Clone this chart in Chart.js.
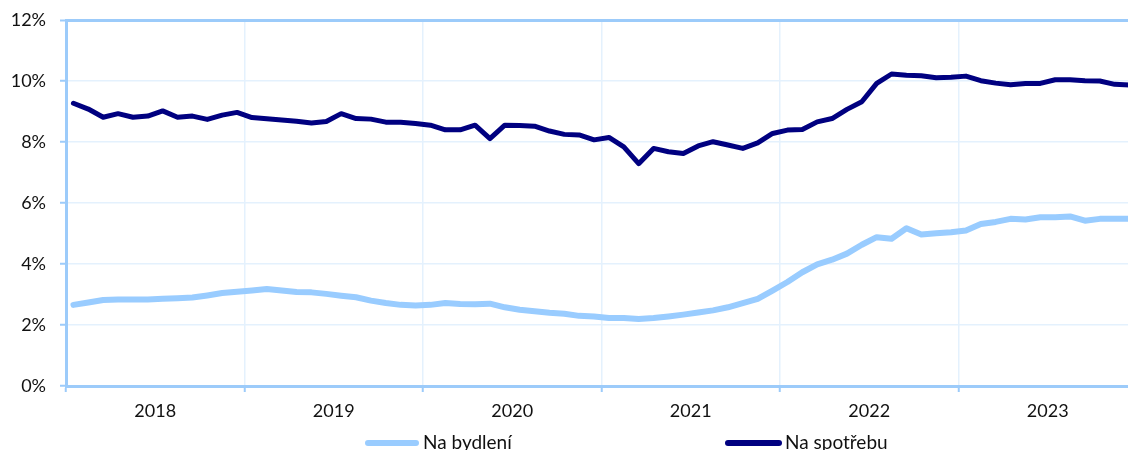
<!DOCTYPE html>
<html>
<head>
<meta charset="utf-8">
<script src="https://cdn.jsdelivr.net/npm/chart.js@4/dist/chart.umd.min.js"></script>
<style>
    html, body { margin: 0; padding: 0; background: #fff; overflow: hidden; }
    #wrap { width: 1137px; height: 450px; position: relative; }
</style>
</head>
<body>
<div id="wrap"><canvas id="chart"></canvas></div>
<script>
// monthly values, Jan 2018 .. Dec 2023 (% p.a.)
const years = ['2018', '2019', '2020', '2021', '2022', '2023'];

const bydleni = [
    2.66, 2.74, 2.82, 2.84, 2.84, 2.84, 2.86, 2.88, 2.90, 2.97, 3.05, 3.09,
    3.13, 3.18, 3.13, 3.08, 3.07, 3.02, 2.96, 2.91, 2.80, 2.72, 2.66, 2.64,
    2.66, 2.72, 2.69, 2.68, 2.70, 2.58, 2.50, 2.45, 2.40, 2.37, 2.30, 2.28,
    2.23, 2.23, 2.20, 2.23, 2.28, 2.34, 2.41, 2.48, 2.58, 2.72, 2.86, 3.13,
    3.41, 3.73, 3.99, 4.14, 4.34, 4.63, 4.88, 4.83, 5.17, 4.97, 5.01, 5.04,
    5.10, 5.31, 5.38, 5.48, 5.46, 5.53, 5.53, 5.56, 5.42, 5.48, 5.48, 5.48
];

const spotreba = [
    9.27, 9.08, 8.81, 8.93, 8.81, 8.85, 9.02, 8.81, 8.85, 8.74, 8.88, 8.97,
    8.80, 8.76, 8.72, 8.68, 8.62, 8.67, 8.93, 8.77, 8.75, 8.65, 8.65, 8.61,
    8.55, 8.40, 8.40, 8.55, 8.11, 8.55, 8.54, 8.52, 8.36, 8.25, 8.23, 8.07,
    8.15, 7.84, 7.29, 7.79, 7.68, 7.62, 7.87, 8.01, 7.90, 7.79, 7.97, 8.28,
    8.39, 8.41, 8.66, 8.77, 9.07, 9.32, 9.92, 10.23, 10.19, 10.17, 10.11, 10.12,
    10.16, 10.01, 9.93, 9.88, 9.92, 9.92, 10.04, 10.04, 10.01, 10.00, 9.89, 9.87
];

const seriesNames = ['Na bydlení', 'Na spotřebu'];
const seriesColors = ['#99ccff', '#000080'];

const months = [];
years.forEach((y) => {
    for (let m = 1; m <= 12; m++) {
        months.push(y + '-' + String(m).padStart(2, '0'));
    }
});

const axisBlue = '#9ccbfa';
const gridBlue = '#e4f1fd';
const fontFamily = 'Lato, "Open Sans", sans-serif';

// legend drawn by hand, Excel-style wide spacing
const legendPlugin = {
    id: 'bottomLegend',
    afterDraw(chart) {
        const ctx = chart.ctx;
        const items = [
            {x0: 365, x1: 419, tx: 423},
            {x0: 725, x1: 782, tx: 785},
        ];
        ctx.save();
        ctx.font = '19px ' + fontFamily;
        ctx.textBaseline = 'alphabetic';
        ctx.textAlign = 'left';
        items.forEach((it, i) => {
            ctx.strokeStyle = seriesColors[i];
            ctx.lineWidth = 6;
            ctx.lineCap = 'round';
            ctx.beginPath();
            ctx.moveTo(it.x0 + 3, 443);
            ctx.lineTo(it.x1 - 3, 443);
            ctx.stroke();
            ctx.fillStyle = '#111';
            ctx.fillText(seriesNames[i], it.tx, 449);
        });
        ctx.restore();
    }
};

new Chart(document.getElementById('chart'), {
    type: 'line',
    data: {
        labels: months,
        datasets: [
            {
                label: seriesNames[0],
                data: bydleni,
                borderColor: seriesColors[0],
                borderWidth: 6,
            },
            {
                label: seriesNames[1],
                data: spotreba,
                borderColor: seriesColors[1],
                borderWidth: 5,
            },
        ],
    },
    options: {
        responsive: true,
        maintainAspectRatio: false,
        animation: false,
        layout: {padding: {top: 20, right: 0, bottom: 0, left: 0}},
        elements: {
            point: {radius: 0, hoverRadius: 0},
            line: {tension: 0, borderCapStyle: 'round', borderJoinStyle: 'round', fill: false},
        },
        plugins: {
            legend: {display: false},
            tooltip: {enabled: false},
        },
        scales: {
            x: {
                type: 'category',
                offset: true,
                afterFit: (scale) => {
                    scale.height = 64;
                    scale.paddingLeft = 0;
                    scale.paddingRight = 0;
                },
                border: {display: true, color: axisBlue, width: 3},
                grid: {
                    offset: true,
                    drawTicks: true,
                    tickLength: 6,
                    tickWidth: 2,
                    lineWidth: 1.5,
                    color: (c) => (c.index % 12 === 0 ? gridBlue : 'rgba(0,0,0,0)'),
                    tickColor: (c) => (c.index % 12 === 0 ? axisBlue : 'rgba(0,0,0,0)'),
                },
                ticks: {
                    autoSkip: false,
                    maxRotation: 0,
                    minRotation: 0,
                    padding: 8,
                    labelOffset: -7.44,
                    color: '#111',
                    font: {family: fontFamily, size: 18},
                    callback: (value, index) => (index % 12 === 6 ? years[Math.floor(index / 12)] : ''),
                },
            },
            y: {
                min: 0,
                max: 12,
                afterFit: (scale) => {
                    scale.width = 66;
                    scale.paddingTop = 0;
                    scale.paddingBottom = 0;
                },
                border: {display: true, color: axisBlue, width: 3},
                grid: {
                    drawTicks: true,
                    tickLength: 6,
                    tickWidth: 2,
                    tickColor: axisBlue,
                    color: (c) => (c.tick && c.tick.value === 12 ? axisBlue : gridBlue),
                    lineWidth: (c) => (c.tick && c.tick.value === 12 ? 3 : 1.5),
                },
                ticks: {
                    stepSize: 2,
                    padding: 14,
                    color: '#111',
                    font: {family: fontFamily, size: 18},
                    callback: (v) => v + '%',
                },
            },
        },
    },
    plugins: [legendPlugin],
});
</script>
</body>
</html>
